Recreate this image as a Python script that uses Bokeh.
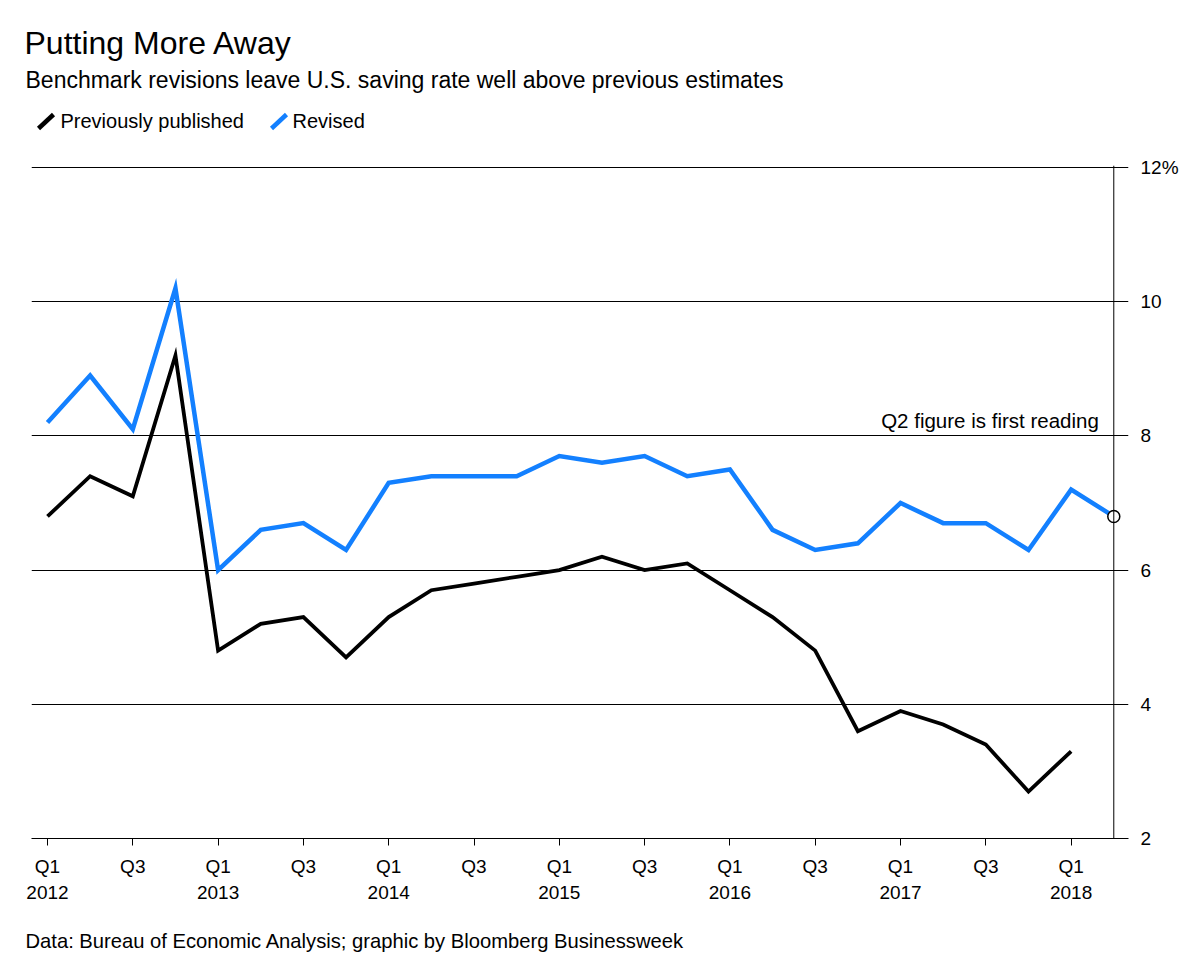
from bokeh.plotting import figure
from bokeh.models import Range1d, FixedTicker, Span
from bokeh.layouts import column, row
from bokeh.embed import file_html
from bokeh.resources import INLINE
from bokeh.core.properties import value

# ---------------- data ----------------
quarters = ["Q1 2012", "Q2 2012", "Q3 2012", "Q4 2012",
            "Q1 2013", "Q2 2013", "Q3 2013", "Q4 2013",
            "Q1 2014", "Q2 2014", "Q3 2014", "Q4 2014",
            "Q1 2015", "Q2 2015", "Q3 2015", "Q4 2015",
            "Q1 2016", "Q2 2016", "Q3 2016", "Q4 2016",
            "Q1 2017", "Q2 2017", "Q3 2017", "Q4 2017",
            "Q1 2018", "Q2 2018"]
previously_published = [6.8, 7.4, 7.1, 9.2, 4.8, 5.2, 5.3, 4.7, 5.3, 5.7, 5.8, 5.9,
                        6.0, 6.2, 6.0, 6.1, 5.7, 5.3, 4.8, 3.6, 3.9, 3.7, 3.4, 2.7, 3.3]
revised = [8.2, 8.9, 8.1, 10.2, 6.0, 6.6, 6.7, 6.3, 7.3, 7.4, 7.4, 7.4,
           7.7, 7.6, 7.7, 7.4, 7.5, 6.6, 6.3, 6.4, 7.0, 6.7, 6.7, 6.3, 7.2, 6.8]
x_tick_labels = ["Q1\n2012", "Q3", "Q1\n2013", "Q3", "Q1\n2014", "Q3", "Q1\n2015",
                 "Q3", "Q1\n2016", "Q3", "Q1\n2017", "Q3", "Q1\n2018"]
y_ticks = [2, 4, 6, 8, 10, 12]
y_tick_labels = ["2", "4", "6", "8", "10", "12%"]

title = "Putting More Away"
subtitle = "Benchmark revisions leave U.S. saving rate well above previous estimates"
legend_labels = ["Previously published", "Revised"]
note = "Q2 figure is first reading"
source = "Data: Bureau of Economic Analysis; graphic by Bloomberg Businessweek"

FONT = "Liberation Sans"
BLUE = "#1380FF"
W = 1200
H_HEAD, H_MAIN, H_FOOT = 150, 770, 45

x_prev = list(range(len(previously_published)))
x_rev = list(range(len(revised)))
x_ticks = [i for i, q in enumerate(quarters) if q.startswith("Q1") or q.startswith("Q3")]


def blank(height):
    f = figure(width=W, height=height, x_range=Range1d(0, W), y_range=Range1d(height, 0),
               output_backend="svg", toolbar_location=None,
               x_axis_location=None, y_axis_location=None, min_border=0)
    f.title = None
    f.outline_line_color = None
    f.xgrid.visible = False
    f.ygrid.visible = False
    f.background_fill_color = "white"
    f.border_fill_color = "white"
    return f


# ---------------- header ----------------
head = blank(H_HEAD)
head.text(x=[24], y=[42], text=[title], text_font=value(FONT), text_font_size="32px",
          text_color="black", text_baseline="middle")
head.text(x=[25], y=[79], text=[subtitle], text_font=value(FONT), text_font_size="23px",
          text_color="black", text_baseline="middle")
head.text(x=[60, 292], y=[120, 120], text=legend_labels, text_font=value(FONT),
          text_font_size="20px", text_color="black", text_baseline="middle")
head.segment(x0=[38, 271], y0=[128, 128], x1=[53, 286], y1=[114, 114],
             line_color=["black", BLUE], line_width=4.5)

# ---------------- main chart ----------------
p = figure(width=W, height=H_MAIN,
           x_range=Range1d(-0.375, 25.345), y_range=Range1d(2, 12.03),
           output_backend="svg", toolbar_location=None,
           y_axis_location="right",
           min_border_left=31, min_border_right=72,
           min_border_top=15, min_border_bottom=82)
p.title = None
p.outline_line_color = None
p.background_fill_color = "white"
p.border_fill_color = "white"

xa = p.xaxis[0]
xa.ticker = FixedTicker(ticks=x_ticks)
xa.major_label_overrides = {t: l for t, l in zip(x_ticks, x_tick_labels)}
xa.axis_line_color = "black"
xa.axis_line_width = 1
xa.major_tick_line_color = "black"
xa.major_tick_out = 7
xa.major_tick_in = 0
xa.minor_tick_line_color = None
xa.major_label_text_font = FONT
xa.major_label_text_font_size = "19px"
xa.major_label_text_color = "black"
xa.major_label_text_line_height = 1.25
xa.major_label_standoff = 10

ya = p.yaxis[0]
ya.ticker = FixedTicker(ticks=y_ticks)
ya.major_label_overrides = {t: l for t, l in zip(y_ticks, y_tick_labels)}
ya.axis_line_color = None
ya.major_tick_line_color = None
ya.major_tick_out = 0
ya.major_tick_in = 0
ya.minor_tick_line_color = None
ya.major_label_text_font = FONT
ya.major_label_text_font_size = "19px"
ya.major_label_text_color = "black"
ya.major_label_standoff = 12

p.xgrid.visible = False
p.ygrid.ticker = FixedTicker(ticks=y_ticks)
p.ygrid.grid_line_color = "black"
p.ygrid.grid_line_width = 1

p.add_layout(Span(location=x_rev[-1], dimension="height", line_color="black", line_width=1))

p.line(x_prev, previously_published, line_color="black", line_width=3.8, line_join="miter")
p.line(x_rev, revised, line_color=BLUE, line_width=4.5, line_join="miter")
p.scatter([x_rev[-1]], [revised[-1]], size=12, fill_color="white",
          line_color="black", line_width=1.5)

p.text(x=[x_rev[-1]], y=[8], text=[note], x_offset=-15, y_offset=-15,
       text_align="right", text_baseline="middle",
       text_font=value(FONT), text_font_size="20.5px", text_color="black")

# ---------------- footer ----------------
foot = blank(H_FOOT)
foot.text(x=[25], y=[20], text=[source], text_font=value(FONT), text_font_size="20.2px",
          text_color="black", text_baseline="middle")

layout = column(row(head), p, row(foot), spacing=0)
open("out.html", "w").write(file_html(layout, INLINE))
